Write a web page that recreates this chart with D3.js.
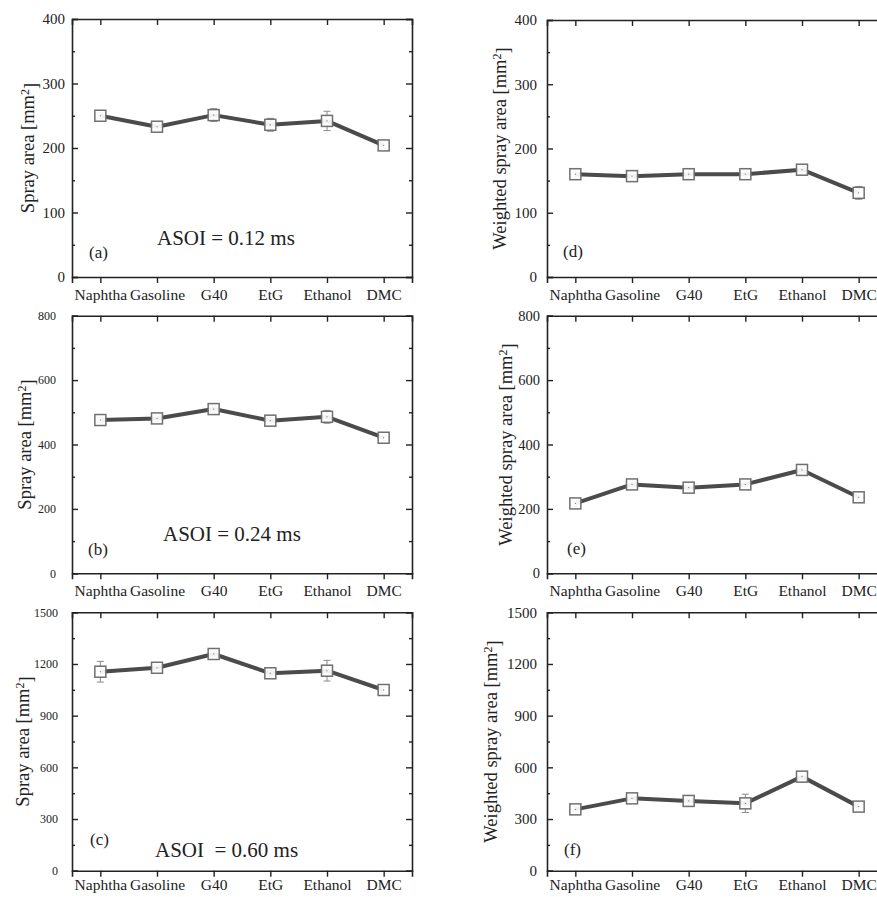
<!DOCTYPE html>
<html>
<head>
<meta charset="utf-8">
<script src="https://cdn.jsdelivr.net/npm/d3@7"></script>
<style>
  body { margin: 0; background: #fff; }
  svg text { font-family: "Liberation Serif", "Times New Roman", serif; fill: #222; }
</style>
</head>
<body>
<div id="chart"></div>
<script>
(function(){
    var width = 877,
        height = 897;

    // fuels on the x axis
    var fuels = ["Naphtha", "Gasoline", "G40", "EtG", "Ethanol", "DMC"];

    // spray area, mm2 (left column)
    var area012 = [250, 233, 251, 236, 242, 204];
    var err012  = [5, 6, 10, 10, 15, 5];
    var area024 = [476, 481, 510, 474, 486, 421];
    var err024  = [8, 8, 10, 10, 20, 8];
    var area060 = [1155, 1178, 1258, 1146, 1161, 1049];
    var err060  = [60, 15, 15, 15, 60, 15];

    // weighted spray area, mm2 (right column)
    var wArea012 = [160, 157, 160, 160, 167, 131];
    var wErr012  = [6, 8, 7, 6, 5, 10];
    var wArea024 = [217, 276, 266, 276, 321, 236];
    var wErr024  = [10, 15, 15, 15, 12, 15];
    var wArea060 = [356, 420, 405, 391, 546, 372];
    var wErr060  = [15, 15, 30, 53, 30, 20];

    // axis settings per row
    var yMax   = [400, 800, 1500];
    var yStep  = [100, 200, 300];
    var asoi   = ["ASOI = 0.12 ms", "ASOI = 0.24 ms", "ASOI  = 0.60 ms"];
    var tags   = [["(a)", "(d)"], ["(b)", "(e)"], ["(c)", "(f)"]];
    var titles = ["Spray area [mm", "Weighted spray area [mm"];

    var panels = [
      {vals: area012,  errs: err012,  row: 0, col: 0, x0: 72,  top: 19,    bot: 277,   yFs: 15,   yPad: 7,  ttlX: 28,  tagX: 89,  tagY: 258, lblDy: 19, asoiX: 157, asoiY: 245},
      {vals: area024,  errs: err024,  row: 1, col: 0, x0: 72,  top: 315.7, bot: 573.3, yFs: 12,   yPad: 16, ttlX: 25,  tagX: 88,  tagY: 555, lblDy: 19, asoiX: 163, asoiY: 541},
      {vals: area060,  errs: err060,  row: 2, col: 0, x0: 72,  top: 612.3, bot: 870.7, yFs: 12,   yPad: 14, ttlX: 23,  tagX: 90,  tagY: 845, lblDy: 15, asoiX: 155, asoiY: 857},
      {vals: wArea012, errs: wErr012, row: 0, col: 1, x0: 547, top: 20,    bot: 277,   yFs: 15,   yPad: 10, ttlX: 500, tagX: 563, tagY: 257, lblDy: 19},
      {vals: wArea024, errs: wErr024, row: 1, col: 1, x0: 547, top: 315.7, bot: 573.3, yFs: 14.5, yPad: 7,  ttlX: 506, tagX: 567, tagY: 554, lblDy: 19},
      {vals: wArea060, errs: wErr060, row: 2, col: 1, x0: 547, top: 612.3, bot: 870.7, yFs: 15,   yPad: 10, ttlX: 491, tagX: 564, tagY: 855, lblDy: 15}
    ];
    var plotW = 340;

    var svg = d3.select("#chart")
      .append("svg")
      .attr("width", width)
      .attr("height", height);

    function styleAxis(a){
      a.attr("font-family", "Liberation Serif");
      a.select(".domain").attr("stroke-width", 1.6).attr("stroke", "#222");
      a.selectAll("line").attr("stroke-width", 1.4).attr("stroke", "#222");
    }

    panels.forEach(function(p){
      var x = d3.scaleLinear().domain([0.5, fuels.length + 0.5]).range([p.x0, p.x0 + plotW]);
      var y = d3.scaleLinear().domain([0, yMax[p.row]]).range([p.bot, p.top]);
      var g = svg.append("g");
      var idx = d3.range(1, fuels.length + 1);
      var major = d3.range(0, yMax[p.row] + 1, yStep[p.row]);
      var minor = d3.range(yStep[p.row] / 2, yMax[p.row], yStep[p.row]);

      // bottom axis: ticks point out
      g.append("g")
        .attr("transform", "translate(0," + p.bot + ")")
        .call(d3.axisBottom(x).tickValues(idx).tickSize(6).tickPadding(p.lblDy - 13)
          .tickFormat(function(d){ return fuels[d - 1]; }))
        .call(styleAxis)
        .call(function(a){
          a.selectAll("text").style("font-size", "15.5px").attr("fill", "#222");
        });

      // top axis: ticks point in
      g.append("g")
        .attr("transform", "translate(0," + p.top + ")")
        .call(d3.axisTop(x).tickValues(idx).tickSize(-6).tickFormat(""))
        .call(styleAxis);

      // left axis
      g.append("g")
        .attr("transform", "translate(" + p.x0 + ",0)")
        .call(d3.axisLeft(y).tickValues(major).tickSize(-6).tickPadding(p.yPad).tickFormat(d3.format("d")))
        .call(styleAxis)
        .call(function(a){
          a.selectAll("text").style("font-size", p.yFs + "px").attr("fill", "#222");
        });
      g.append("g")
        .attr("transform", "translate(" + p.x0 + ",0)")
        .call(d3.axisLeft(y).tickValues(minor).tickSize(-3).tickFormat(""))
        .call(styleAxis)
        .call(function(a){ a.select(".domain").remove(); });

      // right axis
      var xr = p.x0 + plotW;
      g.append("g")
        .attr("transform", "translate(" + xr + ",0)")
        .call(d3.axisRight(y).tickValues(major).tickSize(-6).tickFormat(""))
        .call(styleAxis);
      g.append("g")
        .attr("transform", "translate(" + xr + ",0)")
        .call(d3.axisRight(y).tickValues(minor).tickSize(-3).tickFormat(""))
        .call(styleAxis)
        .call(function(a){ a.select(".domain").remove(); });

      // y title
      var cy = (p.top + p.bot) / 2;
      var t = g.append("text")
        .attr("transform", "translate(" + p.ttlX + "," + cy + ") rotate(-90)")
        .attr("text-anchor", "middle")
        .attr("dy", "0.35em")
        .style("font-size", "18.5px");
      t.append("tspan").text(titles[p.col]);
      t.append("tspan").attr("dy", "-0.45em").style("font-size", "12px").text("2");
      t.append("tspan").attr("dy", "0.45em").text("]");

      // data
      var pts = p.vals.map(function(v, i){ return {i: i + 1, v: v, e: p.errs[i]}; });

      g.append("path")
        .datum(pts)
        .attr("fill", "none")
        .attr("stroke", "#4b4b4b")
        .attr("stroke-width", 4)
        .attr("stroke-linejoin", "round")
        .attr("d", d3.line().x(function(d){ return x(d.i); }).y(function(d){ return y(d.v); }));

      var err = g.selectAll(".err").data(pts).enter().append("g").attr("class", "err")
        .attr("stroke", "#8a8a8a").attr("stroke-width", 1);
      err.append("line")
        .attr("x1", function(d){ return x(d.i); }).attr("x2", function(d){ return x(d.i); })
        .attr("y1", function(d){ return y(d.v + d.e); }).attr("y2", function(d){ return y(d.v - d.e); });
      err.append("line")
        .attr("x1", function(d){ return x(d.i) - 3.5; }).attr("x2", function(d){ return x(d.i) + 3.5; })
        .attr("y1", function(d){ return y(d.v + d.e); }).attr("y2", function(d){ return y(d.v + d.e); });
      err.append("line")
        .attr("x1", function(d){ return x(d.i) - 3.5; }).attr("x2", function(d){ return x(d.i) + 3.5; })
        .attr("y1", function(d){ return y(d.v - d.e); }).attr("y2", function(d){ return y(d.v - d.e); });

      g.selectAll(".mk").data(pts).enter().append("rect")
        .attr("class", "mk")
        .attr("x", function(d){ return x(d.i) - 5.5; })
        .attr("y", function(d){ return y(d.v) - 5.5; })
        .attr("width", 11).attr("height", 11)
        .attr("fill", "#fff")
        .attr("fill-opacity", 0.92)
        .attr("stroke", "#707070")
        .attr("stroke-width", 1.5);
      g.selectAll(".dot").data(pts).enter().append("rect")
        .attr("class", "dot")
        .attr("x", function(d){ return x(d.i) - 0.5; })
        .attr("y", function(d){ return y(d.v) - 0.5; })
        .attr("width", 1).attr("height", 1)
        .attr("fill", "#666");

      // panel tag and ASOI note
      g.append("text").attr("x", p.tagX).attr("y", p.tagY)
        .style("font-size", "17px").text(tags[p.row][p.col]);
      if (p.col === 0) {
        g.append("text").attr("x", p.asoiX).attr("y", p.asoiY)
          .style("font-size", "21px").style("white-space", "pre")
          .attr("xml:space", "preserve")
          .text(asoi[p.row]);
      }
    });
})();
</script>
</body>
</html>
